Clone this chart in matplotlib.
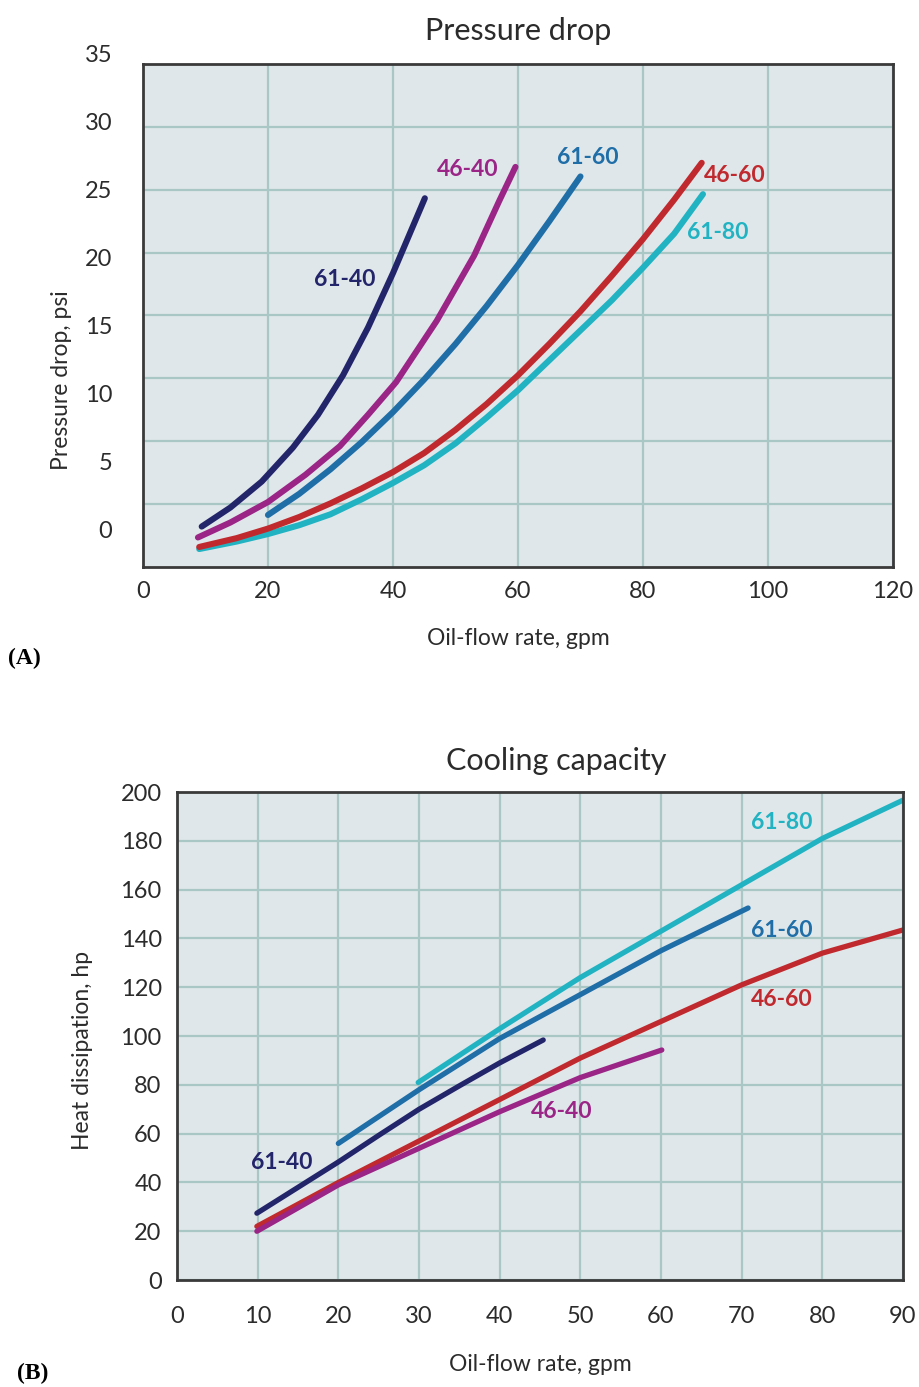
import matplotlib.pyplot as plt
import matplotlib.transforms as mtransforms
import numpy as np

plt.rcParams['font.family'] = ['Lato', 'DejaVu Sans']

# ---- (A) Pressure drop: oil-flow rate (gpm) vs pressure drop (psi, read against the printed labels)
pd_xticks = [0, 20, 40, 60, 80, 100, 120]
pd_yticks = [0, 5, 10, 15, 20, 25, 30, 35]

pd_x_6140 = [9.4, 14, 19, 24, 28, 32, 36, 40, 45.1]
pd_y_6140 = [0.4, 1.8, 3.7, 6.2, 8.6, 11.5, 15.0, 19.0, 24.5]

pd_x_4640 = [8.8, 14, 20, 26, 31.5, 36, 40.5, 47, 53, 57, 59.6]
pd_y_4640 = [-0.4, 0.7, 2.2, 4.2, 6.3, 8.6, 11.0, 15.5, 20.3, 24.3, 26.8]

pd_x_6160 = [20, 25, 30, 35, 40, 45, 50, 55, 60, 65, 70]
pd_y_6160 = [1.25, 2.8, 4.6, 6.6, 8.8, 11.2, 13.8, 16.6, 19.6, 22.8, 26.1]

pd_x_4660 = [9, 15, 20, 25, 30, 35, 40, 45, 50, 55, 60, 65, 70, 75, 80, 85, 89.4]
pd_y_4660 = [-1.1, -0.45, 0.25, 1.1, 2.1, 3.2, 4.4, 5.8, 7.5, 9.4, 11.5,
             13.8, 16.2, 18.8, 21.5, 24.4, 27.1]

pd_x_6180 = [9, 15, 20, 25, 30, 35, 40, 45, 50, 55, 60, 65, 70, 75, 80, 85, 89.6]
pd_y_6180 = [-1.25, -0.7, -0.15, 0.5, 1.3, 2.4, 3.6, 4.9, 6.5, 8.4, 10.4,
             12.6, 14.8, 17.0, 19.4, 21.9, 24.8]

# ---- (B) Cooling capacity: oil-flow rate (gpm) vs heat dissipation (hp)
cc_xticks = [0, 10, 20, 30, 40, 50, 60, 70, 80, 90]
cc_yticks = [0, 20, 40, 60, 80, 100, 120, 140, 160, 180, 200]

cc_x_6140 = [9.9, 15, 20, 25, 30, 35, 40, 45.4]
cc_y_6140 = [27.4, 38, 48.4, 59.3, 70, 79.6, 89, 98.4]

cc_x_4640 = [9.9, 20, 30, 40, 50, 60.1]
cc_y_4640 = [20, 39, 54, 69, 83, 94.3]

cc_x_4660 = [9.9, 20, 30, 40, 50, 60, 70, 80, 90]
cc_y_4660 = [22, 40, 57, 74, 91, 106, 121, 134, 143.5]

cc_x_6160 = [20, 30, 40, 50, 60, 70.8]
cc_y_6160 = [56, 78, 99, 117, 135, 152.5]

cc_x_6180 = [29.9, 40, 50, 60, 70, 80, 90]
cc_y_6180 = [81, 103, 124, 143, 162, 181, 196.7]

# colours
c_6140 = '#23256b'
c_4640 = '#9a2587'
c_6160 = '#1f6ea8'
c_4660 = '#c02a2e'
c_6180 = '#22b3c3'
bg = '#e0e7ea'
grid_c = '#a9c7c5'
spine_c = '#3a3a3a'
txt_c = '#2b2b2b'

fig = plt.figure(figsize=(9.2, 13.87), dpi=100)
ax1 = fig.add_axes([0.1554, 0.5912, 0.8152, 0.3627])
ax2 = fig.add_axes([0.1924, 0.0771, 0.7891, 0.3518])

for ax in (ax1, ax2):
    ax.set_facecolor(bg)
    for s in ax.spines.values():
        s.set_color(spine_c)
        s.set_linewidth(2)
    ax.grid(True, color=grid_c, linewidth=1.6)
    ax.set_axisbelow(True)
    ax.tick_params(length=0, labelsize=17, labelcolor=txt_c)

# ---------------- top chart ----------------
ax1.set_xlim(0, 120)
ax1.set_ylim(-2.57, 34.36)
ax1.set_xticks(pd_xticks)
ax1.tick_params(axis='x', pad=10)
# grid divides the box into 8 bands, the printed labels sit off the grid
lo, hi = ax1.get_ylim()
ax1.set_yticks(np.linspace(lo, hi, 9)[1:-1])
ax1.set_yticklabels([])
trans = mtransforms.blended_transform_factory(ax1.transAxes, ax1.transData)
for v in pd_yticks:
    ax1.text(-0.041, v, str(v), transform=trans, ha='right', va='center',
             fontsize=17, color=txt_c, clip_on=False)

lw1 = 4.4
ax1.plot(pd_x_6180, pd_y_6180, color=c_6180, lw=lw1, solid_capstyle='round')
ax1.plot(pd_x_4660, pd_y_4660, color=c_4660, lw=lw1, solid_capstyle='round')
ax1.plot(pd_x_6160, pd_y_6160, color=c_6160, lw=lw1, solid_capstyle='round')
ax1.plot(pd_x_4640, pd_y_4640, color=c_4640, lw=lw1, solid_capstyle='round')
ax1.plot(pd_x_6140, pd_y_6140, color=c_6140, lw=lw1, solid_capstyle='round')

lab_kw = dict(fontsize=16.5, fontweight='bold', ha='center', va='center')
ax1.text(32.3, 18.5, '61-40', color=c_6140, **lab_kw)
ax1.text(52, 26.6, '46-40', color=c_4640, **lab_kw)
ax1.text(71.2, 27.5, '61-60', color=c_6160, **lab_kw)
ax1.text(94.7, 26.2, '46-60', color=c_4660, **lab_kw)
ax1.text(92, 22.0, '61-80', color=c_6180, **lab_kw)

ax1.set_title('Pressure drop', fontsize=22, color=txt_c, pad=17)
ax1.set_xlabel('Oil-flow rate, gpm', fontsize=16.5, color=txt_c, labelpad=19)
ax1.set_ylabel('Pressure drop, psi', fontsize=16.5, color=txt_c)
ax1.yaxis.set_label_coords(-0.095, 0.372)

# ---------------- bottom chart ----------------
ax2.set_xlim(0, 90)
ax2.set_ylim(0, 200)
ax2.set_xticks(cc_xticks)
ax2.set_yticks(cc_yticks)
ax2.tick_params(axis='x', pad=19)
ax2.tick_params(axis='y', pad=11)

lw2 = 3.8
ax2.plot(cc_x_6180, cc_y_6180, color=c_6180, lw=lw2, solid_capstyle='round')
ax2.plot(cc_x_6160, cc_y_6160, color=c_6160, lw=lw2, solid_capstyle='round')
ax2.plot(cc_x_4660, cc_y_4660, color=c_4660, lw=lw2, solid_capstyle='round')
ax2.plot(cc_x_4640, cc_y_4640, color=c_4640, lw=lw2, solid_capstyle='round')
ax2.plot(cc_x_6140, cc_y_6140, color=c_6140, lw=lw2, solid_capstyle='round')

ax2.text(75, 187.7, '61-80', color=c_6180, **lab_kw)
ax2.text(75, 143.4, '61-60', color=c_6160, **lab_kw)
ax2.text(75, 114.8, '46-60', color=c_4660, **lab_kw)
ax2.text(47.7, 68.9, '46-40', color=c_4640, **lab_kw)
ax2.text(13, 48, '61-40', color=c_6140, **lab_kw)

ax2.set_title('Cooling capacity', fontsize=22, color=txt_c, pad=16, x=0.522)
ax2.set_xlabel('Oil-flow rate, gpm', fontsize=16.5, color=txt_c, labelpad=19)
ax2.set_ylabel('Heat dissipation, hp', fontsize=16.5, color=txt_c)
ax2.yaxis.set_label_coords(-0.1157, 0.471)

fig.text(8 / 920, 1 - 658 / 1387, '(A)', fontsize=17, fontweight='bold',
         family='Liberation Serif', va='center', ha='left')
fig.text(17 / 920, 1 - 1373 / 1387, '(B)', fontsize=17, fontweight='bold',
         family='Liberation Serif', va='center', ha='left')

fig.savefig('out.png', dpi=100)
plt.close(fig)
